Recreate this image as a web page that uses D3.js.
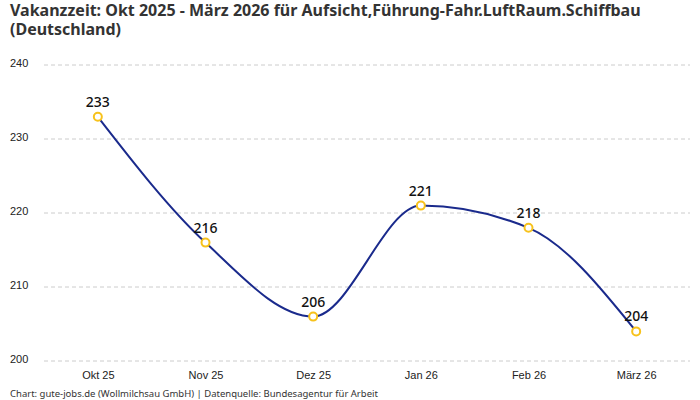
<!DOCTYPE html>
<meta charset="utf-8">
<style>
  body { margin: 0; background: #fff; }
  svg { font-family: "Noto Sans", sans-serif; display: block; }
  .title { font-size: 16px; font-weight: bold; fill: #333; }
  .grid line { stroke: #ccc; stroke-dasharray: 4 3; }
  .tick text { font-size: 11px; fill: #222; }
  .lbl { font-size: 14px; font-weight: 500; fill: #111; text-anchor: middle; }
  .foot { font-size: 9.5px; fill: #333; }
</style>
<svg width="700" height="400"></svg>
<script src="https://cdnjs.cloudflare.com/ajax/libs/d3/7.8.5/d3.min.js"></script>
<script>
var months = ["Okt 25", "Nov 25", "Dez 25", "Jan 26", "Feb 26", "März 26"];
var values = [233, 216, 206, 221, 218, 204];
var yTicks = [200, 210, 220, 230, 240];

var svg = d3.select("svg"),
    plotLeft = 44, plotRight = 690, plotTop = 65, plotBottom = 361;

var x = d3.scalePoint().domain(months).range([plotLeft, plotRight]).padding(0.5);
var y = d3.scaleLinear().domain([200, 240]).range([plotBottom, plotTop]);

svg.append("text").attr("class", "title").attr("x", 10).attr("y", 16)
    .text("Vakanzzeit: Okt 2025 - März 2026 für Aufsicht,Führung-Fahr.LuftRaum.Schiffbau");
svg.append("text").attr("class", "title").attr("x", 10).attr("y", 35)
    .text("(Deutschland)");

// grid + y labels
var grid = svg.append("g").attr("class", "grid");
grid.selectAll("line").data(yTicks).enter().append("line")
    .attr("x1", plotLeft).attr("x2", plotRight)
    .attr("y1", function(d) { return y(d); })
    .attr("y2", function(d) { return y(d); });

svg.append("g").attr("transform", "translate(" + plotLeft + ",0)")
    .call(d3.axisLeft(y).tickValues(yTicks).tickSize(0))
    .call(function(g) { g.select(".domain").remove(); })
    .selectAll("text").attr("text-anchor", "start").attr("x", -34).attr("dy", "0.1em");

svg.append("g").attr("transform", "translate(0," + plotBottom + ")")
    .call(d3.axisBottom(x).tickSize(0).tickPadding(10))
    .call(function(g) { g.select(".domain").remove(); });

var data = months.map(function(m, i) { return { m: m, v: values[i] }; });

var line = d3.line()
    .x(function(d) { return x(d.m); })
    .y(function(d) { return y(d.v); })
    .curve(d3.curveMonotoneX);

svg.append("path").datum(data)
    .attr("d", line)
    .attr("fill", "none")
    .attr("stroke", "#1a2a8c")
    .attr("stroke-width", 2);

svg.selectAll(".pt").data(data).enter().append("circle")
    .attr("class", "pt")
    .attr("cx", function(d) { return x(d.m); })
    .attr("cy", function(d) { return y(d.v); })
    .attr("r", 4)
    .attr("fill", "#fff")
    .attr("stroke", "#f7c21c")
    .attr("stroke-width", 2);

svg.selectAll(".lbl").data(data).enter().append("text")
    .attr("class", "lbl")
    .attr("x", function(d) { return x(d.m); })
    .attr("y", function(d) { return y(d.v) - 10; })
    .text(function(d) { return d.v; });

svg.append("text").attr("class", "foot").attr("x", 10).attr("y", 397)
    .text("Chart: gute-jobs.de (Wollmilchsau GmbH) | Datenquelle: Bundesagentur für Arbeit");
</script>
